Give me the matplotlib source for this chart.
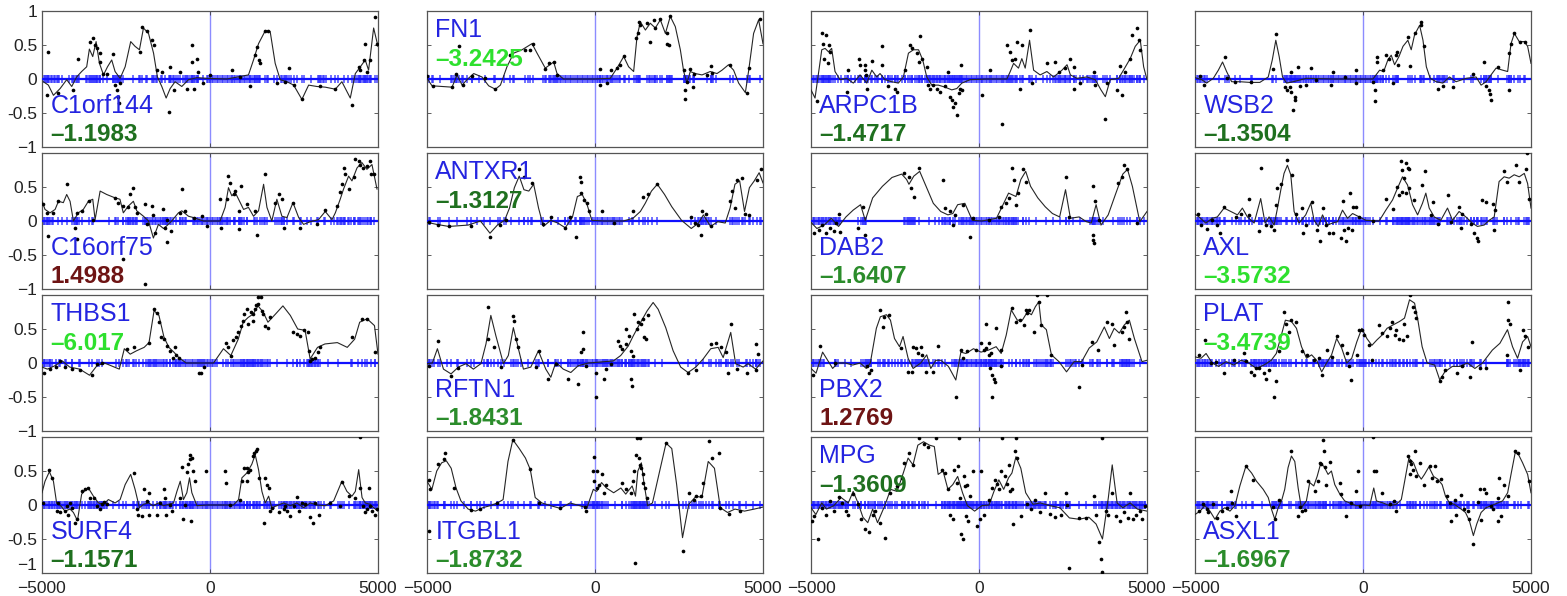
import matplotlib
matplotlib.use("Agg")
import matplotlib.pyplot as plt
import numpy as np

# ---------------- data ----------------
GENES = ["C1orf144", "FN1", "ARPC1B", "WSB2",
         "C16orf75", "ANTXR1", "DAB2", "AXL",
         "THBS1", "RFTN1", "PBX2", "PLAT",
         "SURF4", "ITGBL1", "MPG", "ASXL1"]
SCORES = ["\u20131.1983", "\u20133.2425", "\u20131.4717", "\u20131.3504",
          "1.4988", "\u20131.3127", "\u20131.6407", "\u20133.5732",
          "\u20136.017", "\u20131.8431", "1.2769", "\u20133.4739",
          "\u20131.1571", "\u20131.8732", "\u20131.3609", "\u20131.6967"]

C1ORF144_CURVE = [(-4960,-0.04),(-4810,-0.09),(-4660,-0.24),(-4460,-0.14),(-4265,-0.01),(-4115,-0.11),(-3970,0.03),(-3820,0.11),(-3670,0.18),(-3590,0.44),(-3490,0.33),(-3390,0.55),(-3290,0.23),(-3170,0.06),(-3050,0.18),(-2925,0.28),(-2825,0.11),(-2675,0.01),(-2525,0.18),(-2360,0.55),(-2230,0.48),(-2100,0.43),(-1980,0.75),(-1830,0.67),(-1680,0.38),(-1565,0.03),(-1435,-0.11),(-1305,-0.28),(-1185,-0.14),(-1040,-0.04),(-840,-0.11),(-640,-0.01),(-390,0.02),(-95,0.01),(500,0.0),(1145,0.06),(1295,0.28),(1445,0.52),(1645,0.71),(1790,0.70),(1940,0.23),(2090,-0.01),(2290,-0.04),(2490,-0.09),(2735,-0.30),(2935,-0.09),(3180,-0.11),(3430,-0.12),(3730,-0.15),(3925,-0.04),(4175,-0.28),(4325,0.08),(4475,0.18),(4620,0.28),(4720,0.13),(4870,0.75),(5000,0.48)]
C1ORF144_DOTS = [(-4810,0.40),(-4860,-0.24),(-4510,-0.20),(-4070,-0.16),(-3920,0.29),(-3570,0.55),(-3470,0.60),(-3420,0.50),(-3370,0.45),(-3270,0.25),(-3270,0.38),(-3170,0.08),(-3070,0.08),(-2875,0.37),(-2825,-0.09),(-2775,-0.16),(-2725,-0.26),(-2675,-0.06),(-2695,-0.36),(-2030,0.76),(-1880,0.70),(-2080,0.40),(-1730,0.58),(-1680,0.50),(-1585,0.13),(-1435,0.11),(-1235,-0.48),(-1185,0.18),(-1085,-0.16),(-885,0.11),(-540,0.50),(-540,0.25),(-390,0.30),(-490,-0.14),(-685,-0.14),(-345,0.11),(-195,-0.06),(0,0.06),(650,0.13),(900,0.03),(1195,-0.11),(1345,0.35),(1395,0.47),(1495,0.23),(1445,0.28),(1645,0.71),(1740,0.70),(1990,-0.06),(2240,-0.04),(2365,0.16),(2490,-0.09),(2735,-0.30),(3280,-0.11),(3730,-0.15),(4225,-0.38),(4425,0.18),(4475,0.13),(4575,0.28),(4620,0.51),(4670,0.11),(4770,0.28),(4920,0.91),(4970,0.52)]
C1ORF144_RUG = [-4950,-4900,-4870,-4820,-4780,-4740,-4700,-4650,-4600,-4550,-4500,-4400,-4200,-4100,-4050,-4000,-3950,-3900,-3700,-3650,-3600,-3550,-3500,-3450,-3400,-3350,-3300,-2900,-2850,-2800,-2750,-2700,-2650,-2600,-2300,-2100,-1900,-1700,-1600,-1450,-1350,-1200,-1150,-1100,-1000,-950,-800,-750,-700,-650,-600,-550,-500,-450,-400,-350,-100,-50,0,50,100,150,200,250,300,350,400,450,500,550,600,650,700,750,800,850,900,950,1000,1050,1100,1150,1200,1250,1300,1350,1400,1450,1700,1900,2100,2150,2200,2250,2300,2400,2600,2800,3000,3200,3250,3300,3350,3400,3450,3600,3800,4000,4100,4300,4350,4400,4450,4500,4550,4600,4650,4700,4750,4800]

FN1_CURVE = [(-5000,0.01),(-4850,-0.10),(-4255,-0.12),(-4105,0.06),(-3955,-0.09),(-3810,-0.01),(-3610,0.08),(-3365,0.03),(-3165,-0.10),(-2965,-0.15),(-2815,-0.09),(-2620,0.18),(-2420,0.38),(-2170,0.43),(-1875,0.52),(-1725,0.38),(-1480,0.16),(-1230,0.25),(-1130,0.08),(-935,0.0),(-40,0.0),(455,0.01),(655,0.16),(855,0.33),(1000,0.18),(1150,0.11),(1250,0.62),(1350,0.84),(1500,0.72),(1645,0.82),(1795,0.75),(1945,0.87),(2095,0.67),(2240,0.92),(2390,0.77),(2540,0.43),(2640,0.11),(2735,-0.06),(2835,0.11),(2985,0.08),(3185,0.06),(3430,0.11),(3630,0.08),(3780,0.13),(3975,0.21),(4125,0.13),(4275,-0.06),(4475,-0.20),(4575,0.13),(4720,0.67),(4870,0.87),(5000,0.52)]
FN1_DOTS = [(-5000,0.04),(-4830,-0.10),(-4255,-0.12),(-4125,0.08),(-4055,0.48),(-3930,-0.09),(-3665,0.04),(-3265,0.02),(-2965,-0.15),(-2520,0.35),(-2075,0.43),(-1925,0.43),(-1855,0.52),(-1480,0.15),(-1360,0.23),(-1230,0.25),(-1130,0.06),(160,0.14),(160,-0.09),(355,-0.06),(485,0.13),(655,0.16),(755,0.21),(875,0.34),(1230,0.60),(1270,0.67),(1300,0.84),(1350,0.80),(1545,0.82),(1625,0.55),(1745,0.87),(1795,0.75),(1945,0.88),(2145,0.67),(2145,0.52),(2195,0.50),(2240,0.93),(2640,0.13),(2690,-0.16),(2690,-0.30),(2735,-0.04),(2835,0.14),(2905,-0.12),(2935,0.08),(3335,0.06),(3455,0.19),(3480,0.09),(4025,0.21),(4525,-0.21),(4575,0.16),(4900,0.88)]
FN1_RUG = [-4950,-4850,-4600,-4300,-4200,-4150,-4100,-3950,-3800,-3650,-3450,-3000,-2700,-2450,-2400,-2000,-1550,-1450,-1350,-1300,-1250,-1200,-1150,-1100,-1050,-1000,-950,-900,-850,-800,-750,-700,-650,-600,-550,-500,-450,-400,-350,-300,-250,-200,-150,-100,-50,0,50,100,150,200,250,300,350,400,450,500,550,600,700,900,1000,1150,1250,1300,1600,1700,1800,1850,2000,2200,2250,2300,2650,2700,2750,2800,2950,3450,3500,3600,4100,4600]

ARPC1B_CURVE = [(-5000,-0.16),(-4880,-0.28),(-4750,0.18),(-4680,0.43),(-4580,0.45),(-4480,0.40),(-4385,0.45),(-4285,0.11),(-4135,-0.01),(-3940,0.01),(-3740,-0.06),(-3540,0.06),(-3340,-0.06),(-3190,0.13),(-3045,0.03),(-2945,0.08),(-2795,-0.01),(-2600,-0.04),(-2400,-0.06),(-2250,0.03),(-2100,0.38),(-1950,0.43),(-1800,0.43),(-1675,0.28),(-1555,0.03),(-1405,-0.09),(-1210,-0.09),(-1010,-0.12),(-810,-0.16),(-660,-0.14),(-510,-0.06),(-265,-0.01),(235,0.0),(830,0.0),(930,0.11),(1030,0.23),(1175,0.16),(1275,0.30),(1375,0.16),(1505,0.57),(1625,0.13),(1820,0.06),(2020,0.11),(2220,0.03),(2470,0.13),(2620,0.21),(2720,0.06),(2915,0.01),(3210,0.03),(3460,-0.01),(3630,-0.16),(3760,-0.26),(3905,-0.01),(4155,0.01),(4300,0.13),(4500,0.30),(4650,0.48),(4800,0.57),(4900,0.18),(5000,-0.01)]
ARPC1B_DOTS = [(-4830,-0.33),(-4680,0.68),(-4550,0.65),(-4650,0.52),(-4450,0.50),(-4600,0.30),(-4435,0.40),(-4485,0.23),(-3890,0.13),(-3940,-0.19),(-3560,0.29),(-3540,0.21),(-3390,0.21),(-3390,0.13),(-3360,0.06),(-3190,0.27),(-3320,-0.14),(-2900,0.49),(-2900,0.21),(-2700,-0.11),(-2500,-0.14),(-2450,-0.19),(-2200,0.13),(-2050,0.50),(-2000,0.45),(-1850,0.38),(-1750,0.63),(-1700,0.30),(-1800,0.25),(-1555,0.18),(-1505,-0.09),(-1460,-0.14),(-1360,-0.09),(-1260,-0.14),(-1160,-0.19),(-1010,-0.11),(-910,0.11),(-860,-0.26),(-810,-0.31),(-760,-0.41),(-710,-0.36),(-660,-0.53),(-610,-0.21),(-560,-0.14),(-510,-0.16),(-540,0.21),(85,-0.24),(330,0.13),(680,-0.66),(830,0.50),(930,0.40),(980,0.28),(1080,0.30),(1130,0.55),(1210,-0.14),(1280,0.50),(1505,0.72),(1575,-0.06),(2020,0.24),(2270,0.25),(2370,0.11),(2570,0.16),(2700,0.30),(2815,-0.14),(2815,0.18),(3015,-0.06),(3410,0.11),(3460,-0.09),(3760,-0.59),(3810,-0.06),(4105,-0.16),(4200,0.19),(4250,-0.23),(4350,0.11),(4500,0.30),(4550,0.65),(4700,0.75),(4750,0.57),(4780,0.43)]
ARPC1B_RUG = [-4950,-4900,-4850,-4800,-4750,-4700,-4650,-4600,-4550,-4500,-4450,-4400,-4350,-4300,-4200,-4100,-4000,-3900,-3800,-3700,-3600,-3500,-3400,-3350,-3300,-3200,-3100,-3050,-3000,-2900,-2800,-2700,-2650,-2600,-2500,-2400,-2300,-2200,-2100,-2000,-1900,-1800,-1700,-1600,-1550,-1500,-1450,-1400,-1350,-1300,-1250,-1200,-1150,-1100,-1050,-1000,-950,-900,-850,-800,-750,-700,-650,-600,-550,-500,-450,-400,-350,-300,-250,-200,-150,-100,-50,0,50,100,150,200,250,300,350,400,450,500,550,600,650,700,750,800,850,900,950,1000,1100,1300,1500,1700,1900,2100,2200,2300,2350,2400,2450,2500,2550,2600,2650,2700,2900,3100,3200,3250,3300,3350,3400,3450,3500,3700,3900,4100,4200,4300,4350,4400,4450,4500,4550,4600,4700,4800,4900]

WSB2_CURVE = [(-5000,0.02),(-4800,-0.01),(-4655,-0.06),(-4455,0.01),(-4305,0.13),(-4180,0.25),(-4060,0.11),(-3910,-0.04),(-3665,-0.04),(-3365,-0.05),(-3070,-0.05),(-2820,0.03),(-2700,0.28),(-2595,0.57),(-2495,0.33),(-2395,0.03),(-2275,-0.06),(-2080,-0.04),(-1685,0.01),(-890,0.0),(-100,0.0),(295,0.0),(495,0.13),(615,0.11),(740,0.28),(840,0.35),(940,0.21),(1070,0.33),(1190,0.48),(1335,0.57),(1435,0.43),(1535,0.65),(1685,0.79),(1785,0.57),(1885,0.18),(2000,0.01),(2180,-0.04),(2375,-0.06),(2575,0.03),(2770,-0.04),(3070,0.01),(3365,0.03),(3515,-0.09),(3665,-0.04),(3810,0.06),(3960,0.16),(4155,0.13),(4305,0.11),(4405,0.52),(4505,0.67),(4650,0.55),(4800,0.55),(4900,0.48),(5000,0.23)]
WSB2_DOTS = [(-4850,0.04),(-4735,-0.09),(-4110,0.32),(-4060,0.02),(-3810,-0.04),(-3345,-0.05),(-2690,0.14),(-2595,0.66),(-2330,-0.12),(-2275,-0.16),(-2180,-0.12),(-2130,-0.19),(-2080,-0.46),(-2030,-0.26),(-2030,-0.31),(-2130,0.11),(-1935,0.18),(-1885,-0.11),(-1690,-0.09),(-1540,0.16),(-1390,-0.01),(-890,0.11),(-940,-0.09),(-545,0.03),(-200,0.13),(-200,-0.06),(295,-0.04),(345,-0.16),(345,-0.32),(415,0.32),(415,0.25),(595,0.13),(690,0.35),(770,0.30),(890,-0.06),(1010,0.40),(990,0.35),(1040,0.21),(1335,0.62),(1405,0.19),(1535,0.67),(1735,0.84),(1735,0.79),(1830,0.48),(2225,-0.15),(2375,-0.10),(2670,-0.12),(3265,0.08),(3610,0.25),(3665,-0.11),(3760,-0.16),(3780,-0.22),(3810,-0.31),(4010,0.17),(4350,0.38),(4350,-0.16),(4405,0.52),(4485,0.68),(4680,0.54),(4830,0.54)]
WSB2_RUG = [-4950,-4900,-4850,-4800,-4700,-4650,-4300,-4000,-3650,-3300,-2700,-2350,-2300,-2250,-2200,-2150,-2100,-2050,-2000,-1950,-1900,-1850,-1800,-1750,-1700,-1650,-1600,-1550,-1500,-1450,-1400,-1350,-1300,-1250,-1200,-1150,-1100,-1050,-1000,-950,-900,-850,-800,-750,-700,-650,-600,-550,-500,-450,-400,-350,-300,-250,-200,-150,-100,-50,0,50,100,150,200,250,300,350,400,450,500,550,600,950,1000,1050,1450,1700,1800,2000,2100,2200,2250,2300,2350,2400,2450,2500,2700,3000,3200,3500,3600,3650,3700,3750,3800,4300,4350,4400,4600,4800]

C16ORF75_CURVE = [(-5000,0.29),(-4910,0.17),(-4760,0.12),(-4610,0.17),(-4510,0.29),(-4365,0.27),(-4265,0.39),(-4165,0.29),(-4065,0.0),(-3920,0.12),(-3770,0.17),(-3620,0.29),(-3490,0.32),(-3420,0.02),(-3270,0.44),(-3075,0.39),(-2825,0.34),(-2680,0.32),(-2580,0.12),(-2430,0.22),(-2280,0.29),(-2180,0.15),(-1980,0.07),(-1830,0.0),(-1685,-0.25),(-1535,-0.05),(-1385,-0.11),(-1285,-0.07),(-1140,0.0),(-940,0.12),(-840,0.15),(-640,0.07),(-490,0.05),(-195,0.0),(300,0.0),(450,0.20),(550,0.49),(650,0.37),(750,0.42),(850,0.32),(1000,0.17),(1145,0.20),(1295,0.07),(1445,0.15),(1595,0.54),(1695,0.20),(1840,0.0),(1990,0.32),(2140,0.07),(2290,0.05),(2470,0.27),(2640,0.05),(2785,-0.05),(2985,-0.01),(3230,0.02),(3430,0.14),(3630,0.02),(3730,0.12),(3875,0.32),(3975,0.47),(4125,0.66),(4225,0.59),(4375,0.78),(4520,0.86),(4670,0.76),(4820,0.83),(4970,0.47)]
C16ORF75_DOTS = [(-4960,0.25),(-4860,0.12),(-4810,-0.22),(-4660,0.12),(-4510,0.29),(-4265,0.54),(-4020,-0.11),(-3970,0.12),(-3820,0.15),(-3590,0.29),(-3470,0.02),(-2825,0.34),(-2725,0.27),(-2580,0.22),(-2430,0.20),(-2380,0.39),(-2280,0.49),(-2230,0.20),(-2180,0.12),(-1930,0.25),(-1880,-0.05),(-1730,0.22),(-1685,0.09),(-1635,-0.17),(-1405,0.17),(-1335,-0.10),(-1285,-0.31),(-1285,0.02),(-1165,-0.15),(-895,0.12),(-840,0.47),(-745,0.14),(-490,0.05),(-245,0.07),(-95,-0.07),(300,0.32),(320,-0.11),(500,0.32),(550,0.66),(600,0.56),(700,0.39),(750,0.44),(850,-0.12),(850,0.15),(920,0.51),(1100,0.25),(1345,0.15),(1395,-0.21),(1625,0.69),(1940,0.27),(2060,0.39),(2140,0.32),(2190,-0.11),(2470,0.27),(2685,-0.11),(3180,-0.05),(3430,0.16),(3780,0.22),(3855,0.42),(3925,0.54),(3975,0.78),(4025,0.69),(4125,0.47),(4275,0.64),(4320,0.91),(4420,0.88),(4470,0.83),(4550,0.78),(4670,0.81),(4750,0.88),(4790,0.69),(4870,0.69),(-3970,-0.26),(-2580,-0.56),(-1930,-0.93)]
C16ORF75_RUG = [-4950,-4900,-4850,-4800,-4750,-4700,-4400,-4100,-4050,-4000,-3950,-3900,-3500,-3000,-2800,-2500,-2450,-2400,-2350,-2300,-2200,-2000,-1900,-1850,-1800,-1600,-1550,-1500,-1450,-1400,-1350,-1300,-1250,-1200,-1100,-1000,-900,-800,-700,-500,-450,-400,-350,-300,-250,-200,-150,-100,-50,0,50,100,150,200,250,300,350,400,450,500,700,900,950,1000,1100,1300,1500,1550,1600,1700,2000,2100,2150,2200,2300,2500,2700,2900,3000,3200,3400,3600,3700,3800,3900,4000,4100,4200,4300,4400,4500,4600,4700,4800]

ANTXR1_CURVE = [(-5000,-0.02),(-4710,-0.05),(-4350,-0.08),(-3775,-0.06),(-3410,0.0),(-3125,-0.18),(-2905,-0.06),(-2690,0.01),(-2545,0.19),(-2400,0.49),(-2255,0.66),(-2115,0.46),(-1970,0.44),(-1825,0.54),(-1680,0.19),(-1535,-0.08),(-1320,0.01),(-1105,-0.03),(-885,-0.10),(-670,0.06),(-525,0.36),(-380,0.39),(-235,0.24),(-95,0.01),(265,0.0),(845,0.0),(1130,0.04),(1350,0.14),(1495,0.26),(1680,0.44),(1855,0.54),(2070,0.39),(2285,0.21),(2575,0.01),(2865,-0.11),(3080,-0.03),(3225,0.09),(3440,-0.08),(3655,-0.01),(3875,-0.03),(4020,0.19),(4165,0.54),(4305,0.59),(4450,0.14),(4595,0.49),(4740,0.59),(4885,0.71),(5000,0.56)]
ANTXR1_DOTS = [(-4930,-0.02),(-4670,-0.06),(-4350,-0.08),(-3700,-0.07),(-3125,-0.23),(-2835,-0.06),(-2650,0.01),(-2255,0.76),(-2115,0.64),(-1870,0.56),(-1535,-0.05),(-1320,0.06),(-885,-0.11),(-740,0.06),(-555,-0.23),(-455,0.64),(-425,0.58),(-410,0.41),(-340,0.31),(-235,0.26),(-165,0.14),(195,0.15),(555,-0.03),(1130,0.15),(1420,0.35),(1565,0.39),(1855,0.54),(2865,0.06),(2980,-0.03),(3080,-0.06),(3155,-0.20),(3195,0.14),(3300,0.11),(3440,-0.07),(4020,0.30),(4090,0.44),(4165,0.19),(4235,0.61),(4380,0.63),(4450,0.11),(4570,0.09),(4810,0.61),(4955,0.77)]
ANTXR1_RUG = [-4900,-4600,-4100,-3800,-3500,-3300,-2900,-2700,-2500,-2100,-2000,-1900,-1600,-1300,-1100,-900,-800,-700,-600,-450,-400,-350,-300,-100,-50,0,50,100,150,200,250,300,350,400,450,500,550,600,650,700,750,800,1000,1100,1300,1500,1700,3100,3150,3200,3250,3300,3350,3400,3600,4100,4300,4400,4600,4700,4900]

DAB2_CURVE = [(-5000,-0.02),(-4825,-0.11),(-4610,-0.06),(-4395,0.04),(-4180,-0.08),(-3960,0.06),(-3745,0.16),(-3525,0.24),(-3385,0.01),(-3165,0.34),(-2875,0.51),(-2590,0.64),(-2300,0.69),(-2155,0.61),(-2085,0.54),(-1940,0.66),(-1765,0.73),(-1575,0.51),(-1360,0.26),(-1140,0.14),(-925,0.09),(-780,0.11),(-635,0.24),(-420,0.26),(-200,0.01),(85,0.0),(520,0.04),(735,0.26),(880,0.41),(1100,0.36),(1245,0.61),(1390,0.73),(1535,0.51),(1750,0.34),(1970,0.21),(2185,0.11),(2400,0.06),(2575,0.46),(2720,0.04),(2980,0.06),(3195,-0.01),(3340,-0.03),(3485,0.24),(3630,-0.06),(3845,0.09),(4060,0.39),(4280,0.69),(4420,0.76),(4565,0.51),(4785,-0.01),(5000,0.14)]
DAB2_DOTS = [(-4900,-0.17),(-4755,-0.13),(-4680,-0.06),(-4540,-0.18),(-4420,-0.11),(-4320,-0.15),(-4250,-0.03),(-4180,0.11),(-4135,-0.16),(-3600,-0.11),(-3455,0.21),(-3385,-0.21),(-2225,0.71),(-2085,0.64),(-2010,0.49),(-1940,0.36),(-1795,0.78),(-1070,0.61),(-1000,0.19),(-855,0.14),(-780,-0.06),(-710,0.09),(-490,0.24),(-275,-0.23),(-175,0.04),(300,0.01),(590,0.06),(665,0.21),(810,0.26),(880,0.34),(980,0.78),(1030,0.61),(1100,0.24),(1175,0.41),(1320,0.76),(1390,0.58),(2575,0.64),(2690,0.06),(3385,0.51),(3445,0.29),(3385,-0.21),(3385,-0.28),(3415,-0.33),(3560,0.01),(4135,0.56),(4250,0.64),(4320,0.83),(4395,0.76),(4710,-0.03)]
DAB2_RUG = [-4950,-4900,-4850,-4800,-4750,-4700,-4650,-4600,-4550,-4500,-4450,-4400,-4350,-4300,-4250,-4200,-3500,-3450,-3400,-3350,-2200,-2150,-2100,-2050,-2000,-1950,-1900,-1500,-1300,-1200,-1100,-1000,-950,-900,-850,-600,-550,-500,-450,-400,-350,-300,-250,-200,-150,-100,-50,0,50,100,150,200,250,300,350,400,450,500,550,600,700,750,800,850,900,950,1000,1050,1100,1300,1500,1700,2000,2200,2400,2600,2800,3000,3300,3350,3400,3450,3500,3700,4000,4200,4500,4700,4800,4900]

AXL_CURVE = [(-5000,0.10),(-4880,0.06),(-4680,-0.03),(-4485,0.04),(-4335,0.06),(-4135,0.19),(-3935,0.14),(-3735,0.09),(-3590,0.19),(-3440,0.06),(-3240,-0.03),(-3045,0.33),(-2915,-0.03),(-2795,0.06),(-2645,-0.06),(-2545,0.19),(-2445,0.46),(-2350,0.70),(-2250,0.82),(-2150,0.68),(-2050,0.14),(-1900,-0.03),(-1705,0.09),(-1555,0.26),(-1455,0.01),(-1330,-0.08),(-1205,0.09),(-1055,-0.06),(-905,-0.03),(-755,-0.01),(-610,0.16),(-460,0.04),(-310,0.11),(-110,0.06),(85,0.01),(480,0.0),(680,0.16),(880,0.31),(1025,0.48),(1175,0.65),(1325,0.53),(1475,0.24),(1625,0.09),(1770,0.26),(1870,0.41),(1970,0.19),(2120,0.06),(2315,0.01),(2515,0.19),(2665,0.01),(2860,0.14),(3060,0.06),(3255,-0.03),(3405,-0.08),(3605,-0.06),(3755,0.01),(3905,0.06),(4050,0.58),(4200,0.65),(4350,0.63),(4500,0.68),(4650,0.65),(4800,0.70),(4900,0.55),(5000,0.19)]
AXL_DOTS = [(-4900,0.10),(-4830,-0.06),(-4630,-0.12),(-4485,0.01),(-4335,-0.06),(-4265,-0.17),(-4135,0.20),(-3785,0.06),(-3640,0.10),(-3380,0.33),(-3400,0.09),(-3095,-0.15),(-3045,0.78),(-2895,-0.06),(-2745,-0.08),(-2645,-0.13),(-2595,0.24),(-2545,0.49),(-2445,0.54),(-2270,0.90),(-2100,0.67),(-2000,0.11),(-1820,0.19),(-1800,-0.18),(-1705,-0.06),(-1525,0.28),(-1355,-0.13),(-1275,-0.29),(-1205,0.19),(-1105,-0.06),(-1005,-0.17),(-905,-0.17),(-655,-0.25),(-610,0.29),(-560,-0.13),(-510,-0.30),(-460,-0.11),(-390,0.41),(-330,-0.13),(-285,0.20),(-215,0.20),(-110,0.06),(290,0.0),(680,0.33),(880,0.18),(1000,0.50),(1060,0.38),(1125,0.88),(1175,0.75),(1225,0.63),(1275,0.86),(1325,0.78),(1375,0.77),(1155,0.43),(1275,0.41),(1375,0.48),(1525,0.31),(1770,0.53),(1850,0.74),(2020,0.09),(2070,0.28),(2220,-0.05),(2515,0.38),(2615,-0.01),(2860,0.21),(2960,0.11),(2910,-0.10),(3210,-0.05),(3305,-0.17),(3405,-0.25),(3435,-0.29),(3555,0.31),(3655,0.28),(3855,0.25),(3905,-0.13),(3935,0.16),(4200,0.73),(4300,0.58),(4550,0.82),(4650,0.58),(4850,0.77),(4880,1.0),(4930,0.33)]
AXL_RUG = [-4950,-4900,-4850,-4800,-4750,-4700,-4650,-4600,-4550,-4500,-4450,-4400,-4350,-4300,-4100,-3900,-3700,-3500,-3300,-3100,-3000,-2800,-2750,-2700,-2650,-2600,-2550,-2500,-2300,-2000,-1900,-1800,-1600,-1500,-1400,-1300,-1200,-1100,-1000,-900,-800,-700,-600,-300,-250,-200,-150,-100,-50,0,50,100,150,200,500,700,900,950,1000,1050,1100,1150,1200,1250,1300,1350,1400,1450,1500,1550,1600,1650,1700,1800,1850,1900,1950,2000,2050,2100,2150,2200,2250,2300,2500,2600,2700,2800,2900,3000,3100,3200,3300,3400,3500,3600,3700,4000,4200,4400,4600,4800,4900]

THBS1_CURVE = [(-5000,-0.06),(-4840,-0.09),(-4615,-0.04),(-4395,0.03),(-4175,-0.06),(-3880,-0.09),(-3585,-0.18),(-3365,-0.04),(-3140,0.0),(-2700,-0.09),(-2550,0.21),(-2375,0.13),(-2185,0.18),(-1960,0.23),(-1815,0.30),(-1665,0.77),(-1520,0.70),(-1370,0.38),(-1225,0.23),(-1075,0.16),(-930,0.08),(-710,0.0),(105,0.0),(400,0.21),(620,0.11),(840,0.35),(990,0.60),(1135,0.67),(1285,0.72),(1430,0.84),(1580,0.75),(1725,0.60),(1950,0.72),(2170,0.84),(2390,0.70),(2610,0.50),(2830,0.48),(2980,0.06),(3200,0.23),(3420,0.28),(3790,0.30),(4085,0.23),(4305,0.35),(4455,0.60),(4675,0.65),(4895,0.55),(5000,0.13)]
THBS1_DOTS = [(-4940,-0.14),(-4765,-0.09),(-4590,-0.06),(-4470,0.03),(-4320,-0.06),(-4100,-0.09),(-3880,-0.10),(-3510,-0.18),(-3365,-0.01),(-3215,0.0),(-2480,0.21),(-2260,0.23),(-1815,0.29),(-1665,0.79),(-1565,0.74),(-1520,0.60),(-1445,0.38),(-1370,0.35),(-1270,0.25),(-1180,0.18),(-1105,0.08),(-1030,0.23),(-1000,0.12),(-930,0.07),(-340,-0.14),(-265,-0.14),(-190,-0.06),(475,0.30),(545,0.23),(620,0.11),(695,0.34),(765,0.38),(840,0.45),(915,0.54),(990,0.62),(1015,0.72),(1090,0.79),(1135,0.57),(1210,0.75),(1285,0.72),(1285,0.62),(1325,0.79),(1355,0.85),(1430,0.87),(1430,0.97),(1505,0.97),(1550,0.77),(1580,0.72),(1650,0.55),(1725,0.52),(1800,0.67),(2465,0.45),(2580,0.43),(2685,0.40),(2790,0.48),(2905,0.45),(2935,0.18),(2980,0.03),(3050,0.06),(3125,0.07),(3200,0.16),(3270,0.23),(4230,0.38),(4525,0.65),(4675,0.64),(4925,0.16)]
THBS1_RUG = [-4950,-4900,-4850,-4800,-4750,-4700,-4500,-4300,-4100,-3900,-3600,-3300,-2800,-2700,-2600,-2500,-2400,-2300,-2200,-2100,-2000,-1900,-1850,-1800,-1750,-1700,-1650,-1600,-1400,-1300,-1200,-1000,-950,-900,-850,-800,-750,-700,-650,-600,-550,-500,-450,-400,-350,-300,-250,-200,-150,-100,-50,0,50,100,150,200,400,700,900,950,1000,1050,1100,1150,1200,1250,1300,1500,1700,2000,2300,2600,2900,2950,3000,3050,3100,3150,3200,3500,3800,4200,4400,4600,4800,4900]

RFTN1_CURVE = [(-5000,-0.01),(-4840,0.0),(-4690,0.21),(-4510,-0.09),(-4285,-0.16),(-4065,-0.06),(-3840,-0.01),(-3620,-0.09),(-3395,-0.01),(-3245,0.28),(-3100,0.70),(-2950,0.40),(-2725,-0.01),(-2580,0.11),(-2430,0.52),(-2280,0.21),(-2130,-0.09),(-1910,-0.06),(-1685,0.18),(-1465,-0.09),(-1315,-0.21),(-1165,0.01),(-945,-0.09),(-720,-0.14),(-500,-0.04),(-200,0.0),(545,0.03),(765,0.11),(990,0.25),(1140,0.40),(1360,0.60),(1555,0.77),(1730,0.89),(1880,0.79),(2105,0.52),(2325,0.18),(2550,-0.06),(2770,-0.14),(3000,-0.06),(3220,0.06),(3445,0.21),(3665,0.23),(3815,0.08),(4040,0.45),(4185,-0.01),(4410,-0.06),(4555,-0.01),(4780,-0.09),(5000,0.03)]
RFTN1_DOTS = [(-4955,-0.04),(-4660,0.33),(-4285,-0.19),(-4065,-0.08),(-3170,0.82),(-3170,0.35),(-3020,0.23),(-2800,-0.06),(-2430,0.69),(-2400,0.62),(-2355,0.35),(-2280,0.23),(-1765,-0.06),(-1660,0.17),(-1390,-0.24),(-1165,-0.01),(-795,-0.24),(-500,-0.31),(-420,0.16),(-350,0.45),(-350,0.21),(-275,-0.05),(20,-0.50),(20,-0.14),(275,-0.24),(320,-0.09),(470,-0.01),(690,0.33),(735,0.25),(810,0.21),(915,0.28),(915,0.50),(1020,0.40),(1060,0.18),(1060,-0.24),(1100,-0.34),(1140,0.11),(1170,0.72),(1260,0.50),(1290,0.60),(1360,0.57),(1435,0.65),(1465,0.38),(1510,0.35),(1585,0.70),(2770,-0.14),(2995,-0.11),(3445,0.28),(3590,0.30),(3740,0.23),(3890,0.16),(3960,-0.14),(4040,0.57),(4230,-0.09),(4515,-0.14),(4780,-0.11),(4780,0.28),(4850,0.13)]
RFTN1_RUG = [-4950,-4900,-4850,-4800,-4600,-4400,-4100,-3800,-3700,-3600,-3300,-3200,-3100,-2900,-2700,-2500,-2200,-2000,-1700,-1400,-1200,-1100,-1000,-800,-750,-700,-650,-600,-550,-500,-450,-400,-350,-300,-250,-200,-150,-100,-50,0,50,100,150,200,250,300,350,400,450,500,550,600,650,700,800,900,1000,1100,1200,1300,1400,1500,1600,1800,2000,3200,3400,3700,3900,4100,4300,4500,4600,4700,4800,4900]

PBX2_CURVE = [(-5000,-0.08),(-4850,-0.15),(-4655,0.16),(-4505,0.04),(-4355,-0.08),(-4205,0.0),(-3980,0.0),(-3760,-0.03),(-3535,0.0),(-3355,-0.08),(-3235,0.0),(-3055,0.51),(-2935,0.68),(-2755,0.71),(-2635,0.63),(-2515,0.36),(-2365,0.24),(-2260,0.39),(-2110,0.07),(-1960,-0.08),(-1735,0.0),(-1555,0.12),(-1435,-0.08),(-1285,0.04),(-1135,0.04),(-910,-0.05),(-690,-0.25),(-540,0.16),(-390,0.14),(-165,0.21),(60,0.16),(285,0.19),(510,0.24),(660,0.14),(810,0.41),(960,0.78),(1140,0.63),(1290,0.63),(1440,0.75),(1560,0.71),(1680,0.83),(1780,0.90),(1855,0.56),(2005,0.49),(2155,0.12),(2380,0.02),(2605,-0.13),(2830,0.02),(3055,0.02),(3280,0.22),(3505,0.31),(3730,0.53),(3880,0.36),(4025,0.51),(4175,0.44),(4325,0.56),(4475,0.63),(4625,0.36),(4850,0.02),(5000,0.04)]
PBX2_DOTS = [(-4955,-0.17),(-4730,0.25),(-4280,0.0),(-3325,-0.05),(-3280,-0.14),(-3220,-0.10),(-2935,0.78),(-2815,0.68),(-2860,0.53),(-2665,0.71),(-2335,0.22),(-2110,-0.13),(-2005,-0.13),(-1960,0.24),(-1885,0.22),(-1810,0.14),(-1735,0.24),(-1705,0.12),(-1585,-0.13),(-1360,-0.13),(-1210,0.25),(-690,-0.50),(-540,0.19),(-465,0.07),(-360,0.17),(-90,0.19),(60,0.29),(135,0.19),(210,0.58),(210,0.22),(285,0.12),(330,-0.08),(390,-0.17),(435,-0.23),(480,-0.28),(390,-0.50),(285,0.29),(360,0.14),(510,0.51),(660,0.19),(660,-0.05),(990,0.81),(1110,0.61),(1230,0.63),(1335,0.56),(1410,0.78),(1440,0.73),(1485,0.78),(1635,0.46),(1740,1.0),(1780,0.90),(1855,0.56),(2035,1.0),(2155,0.12),(2980,-0.35),(3055,-0.03),(3355,0.31),(3535,0.19),(3805,0.61),(3955,0.57),(4025,0.26),(4250,0.46),(4325,0.53),(4370,0.75),(4400,0.61),(4475,0.36)]
PBX2_RUG = [-4950,-4900,-4850,-4800,-4750,-4700,-4650,-4600,-4300,-4250,-4200,-4000,-3800,-3500,-3450,-3400,-3350,-3300,-3250,-3200,-3000,-2800,-2700,-2600,-2500,-2400,-2300,-2200,-1900,-1850,-1800,-1750,-1700,-1650,-1600,-1550,-1500,-1300,-1200,-1100,-1000,-800,-750,-700,-650,-600,-550,-500,-450,-400,-350,-300,-250,-200,-150,-100,-50,0,50,100,150,200,250,300,350,400,450,500,550,600,650,700,900,1100,1300,1500,1700,1900,1950,2000,2050,2100,2150,2200,2600,2650,2700,2750,2800,2850,2900,3100,3300,3400,3500,3600,3800,4000,4200,4250,4300,4350,4400,4450,4500,4550,4600,4800]

PLAT_CURVE = [(-5000,0.09),(-4820,0.07),(-4670,0.14),(-4490,0.0),(-4300,-0.05),(-4075,0.02),(-3850,-0.03),(-3625,0.04),(-3400,0.0),(-3175,-0.08),(-2950,-0.03),(-2730,0.04),(-2580,0.14),(-2430,0.41),(-2310,0.63),(-2130,0.61),(-1980,0.51),(-1830,0.24),(-1680,0.07),(-1530,0.12),(-1380,0.04),(-1230,-0.13),(-1085,0.0),(-935,0.12),(-785,0.36),(-635,0.22),(-485,0.0),(-335,0.07),(-185,0.31),(-35,0.51),(115,0.36),(265,0.26),(415,0.34),(565,0.41),(715,0.51),(895,0.56),(1085,0.61),(1235,0.66),(1385,0.93),(1535,0.88),(1640,0.61),(1760,0.24),(1910,0.0),(2135,-0.03),(2285,-0.25),(2435,-0.13),(2660,-0.05),(2880,-0.05),(3105,0.0),(3330,-0.08),(3555,0.0),(3850,0.19),(4075,0.29),(4300,0.49),(4450,0.24),(4600,0.07),(4750,0.31),(4900,0.39),(5000,0.24)]
PLAT_DOTS = [(-4895,0.12),(-4700,0.34),(-4520,0.0),(-4370,0.02),(-4150,-0.14),(-3850,0.04),(-3550,0.14),(-3475,0.03),(-3325,-0.13),(-3250,-0.18),(-3175,-0.08),(-3100,-0.08),(-2950,-0.15),(-2880,-0.23),(-2800,-0.10),(-2655,-0.50),(-2580,-0.26),(-2505,0.17),(-2355,0.75),(-2280,0.58),(-2205,0.46),(-2130,0.63),(-1980,0.61),(-1830,0.17),(-1680,0.12),(-1455,0.04),(-1305,0.07),(-1230,-0.18),(-1085,0.19),(-935,0.09),(-785,0.39),(-635,0.26),(-485,0.14),(-410,-0.04),(-365,-0.25),(-185,0.12),(-110,0.49),(-35,0.49),(40,0.41),(190,0.26),(265,0.04),(490,0.56),(565,0.44),(715,0.39),(790,0.51),(865,0.61),(940,0.41),(985,0.49),(1085,0.36),(1190,0.34),(1235,0.58),(1310,0.39),(1385,1.0),(1490,0.83),(1535,0.75),(1580,0.66),(2285,-0.27),(2360,-0.20),(2435,-0.10),(2810,-0.15),(2960,-0.05),(3180,-0.20),(3255,0.31),(3480,-0.08),(3670,-0.08),(4330,0.90),(4330,0.63),(4375,0.58),(4300,0.12),(4675,-0.10),(4750,0.49),(4825,0.39),(4900,0.24)]
PLAT_RUG = [-4950,-4900,-4850,-4800,-4750,-4700,-4650,-4600,-4550,-4500,-4300,-4200,-4100,-4000,-3900,-3800,-3700,-3600,-3500,-3300,-3250,-3200,-3150,-3100,-3050,-3000,-2950,-2900,-2850,-2800,-2750,-2700,-2650,-2600,-2400,-2000,-1700,-1500,-1300,-1250,-1200,-1150,-1100,-1050,-1000,-950,-900,-700,-500,-300,-100,-50,0,50,100,400,600,900,1100,1300,1600,1800,2000,2050,2100,2150,2200,2250,2300,2600,2700,2800,2900,3000,3100,3200,3300,3500,4300,4500,4550,4600,4650,4700,4750,4800,4850,4900,4950]

SURF4_CURVE = [(-5000,0.18),(-4910,0.35),(-4780,0.49),(-4660,0.35),(-4565,0.03),(-4445,-0.01),(-4315,-0.09),(-4165,-0.06),(-4065,-0.11),(-3945,-0.23),(-3820,0.16),(-3690,0.23),(-3620,0.25),(-3470,0.13),(-3320,0.03),(-3170,0.01),(-3025,0.08),(-2825,0.03),(-2675,0.08),(-2525,0.30),(-2360,0.45),(-2230,0.23),(-2100,-0.04),(-1980,0.01),(-1830,0.03),(-1685,-0.01),(-1535,0.03),(-1385,-0.01),(-1235,0.01),(-1085,0.03),(-985,0.20),(-885,0.35),(-790,0.08),(-690,0.18),(-610,0.40),(-540,0.18),(-390,-0.01),(-95,0.0),(700,0.0),(850,0.08),(950,0.40),(1095,0.47),(1245,0.60),(1345,0.74),(1445,0.52),(1545,0.20),(1645,0.03),(1745,0.13),(1840,-0.04),(1990,-0.01),(2190,0.03),(2390,-0.01),(2585,0.03),(2785,-0.04),(2985,0.03),(3180,0.0),(3430,-0.01),(3680,0.06),(3925,0.35),(4075,0.20),(4225,0.13),(4325,0.20),(4425,0.52),(4525,0.11),(4620,0.03),(4770,0.01),(4870,-0.04),(5000,-0.09)]
SURF4_DOTS = [(-4960,0.03),(-4780,0.52),(-4710,0.40),(-4565,-0.09),(-4515,0.03),(-4465,-0.11),(-4315,-0.09),(-4265,-0.01),(-4215,-0.14),(-4165,0.03),(-4115,-0.05),(-4015,-0.26),(-3945,-0.20),(-3820,0.20),(-3720,0.24),(-3620,0.25),(-3570,0.11),(-3440,0.11),(-3370,-0.01),(-3270,-0.06),(-3220,0.02),(-3150,0.05),(-3070,0.01),(-2260,0.47),(-2160,-0.06),(-2130,-0.14),(-2030,-0.16),(-1960,0.24),(-1880,0.06),(-1830,-0.14),(-1805,0.18),(-1585,-0.14),(-1485,0.03),(-1365,0.24),(-1335,0.11),(-1305,-0.14),(-1185,0.0),(-1135,-0.09),(-885,0.11),(-840,0.56),(-790,-0.21),(-740,0.0),(-690,0.48),(-640,0.60),(-610,0.74),(-590,0.67),(-570,-0.23),(-540,0.69),(-510,0.50),(-440,0.35),(-110,0.50),(455,0.50),(475,0.33),(600,0.0),(880,0.08),(950,0.35),(1000,0.54),(1095,0.55),(1115,0.35),(1145,0.49),(1195,0.52),(1265,0.72),(1295,0.77),(1365,0.80),(1395,0.83),(1445,0.40),(1610,-0.26),(1645,0.40),(1695,0.30),(1745,0.25),(1790,-0.09),(1840,-0.04),(2040,-0.11),(2190,-0.06),(2240,-0.01),(2290,-0.09),(2390,-0.16),(2490,-0.01),(2585,0.12),(2635,-0.09),(2735,0.03),(2835,0.01),(2985,-0.18),(3080,-0.27),(3130,0.03),(3230,-0.14),(3580,0.03),(3880,-0.01),(3925,0.34),(4125,0.13),(4325,0.11),(4455,1.0),(4475,0.25),(4555,-0.01),(4620,-0.11),(4670,-0.06),(4720,0.25),(4770,-0.01),(4820,-0.09),(4920,-0.15),(4970,-0.06)]
SURF4_RUG = [-4950,-4900,-4850,-4800,-4750,-4700,-4650,-4600,-4550,-4500,-4450,-4400,-4350,-4300,-4100,-4050,-4000,-3950,-3900,-3600,-3550,-3500,-3450,-3400,-3350,-3300,-3250,-3200,-3150,-3100,-2900,-2700,-2600,-2500,-2300,-2100,-1900,-1700,-1500,-1450,-1400,-1350,-1300,-1250,-1200,-1100,-1000,-900,-800,-700,-600,-500,-400,-350,-300,-250,-200,-150,-100,-50,0,50,100,150,200,250,300,350,400,450,500,550,600,650,700,750,800,850,900,1000,1100,1200,1300,1400,1500,1700,1900,2100,2150,2200,2250,2300,2350,2400,2450,2500,2550,2600,2650,2700,2750,2800,2850,2900,2950,3000,3100,3200,3300,3400,3600,3800,4000,4300,4350,4400,4450,4500,4550,4600,4650,4700,4750,4800,4850,4900,4950]

ITGBL1_CURVE = [(-5000,0.35),(-4855,0.23),(-4710,0.50),(-4565,0.62),(-4425,0.65),(-4280,0.54),(-4135,0.25),(-3990,0.06),(-3775,-0.06),(-3555,-0.09),(-3340,-0.04),(-3125,-0.01),(-2905,0.03),(-2735,0.08),(-2590,0.64),(-2445,0.96),(-2255,0.83),(-2070,0.69),(-1925,0.52),(-1780,0.11),(-1580,0.03),(-1320,-0.01),(-1030,-0.05),(-745,0.03),(-455,-0.01),(-240,-0.04),(-50,0.23),(50,0.20),(195,0.33),(340,0.25),(555,0.18),(770,0.25),(915,0.16),(1105,0.28),(1205,0.13),(1275,0.50),(1380,0.62),(1450,0.35),(1565,-0.01),(1710,0.03),(1925,0.50),(2115,0.91),(2285,0.83),(2430,0.30),(2605,-0.48),(2790,0.01),(3010,0.13),(3180,0.11),(3370,0.64),(3555,0.54),(3730,-0.04),(3945,-0.11),(4165,-0.06),(4450,-0.09),(4740,-0.06),(5000,-0.03)]
ITGBL1_DOTS = [(-4955,0.37),(-4955,-0.38),(-4900,0.23),(-4670,0.60),(-4495,0.67),(-4450,0.76),(-4205,0.25),(-3700,-0.08),(-3410,-0.06),(-2905,0.03),(-2445,0.96),(-1925,0.53),(-1680,0.03),(-1030,-0.05),(-310,-0.03),(-270,-0.09),(-20,0.71),(-50,0.50),(50,0.50),(-20,0.35),(50,0.25),(120,0.30),(195,0.45),(265,0.18),(340,0.30),(815,0.33),(915,0.23),(1060,0.18),(1135,0.35),(1175,0.50),(1205,-0.86),(1235,0.74),(1250,0.99),(1310,0.69),(1335,0.59),(1350,0.99),(1380,0.54),(1420,0.45),(1420,0.33),(1495,0.25),(1535,0.11),(2115,0.91),(2605,-0.68),(2790,0.18),(2935,0.08),(3010,0.13),(3150,0.13),(3225,0.33),(3400,0.94),(3485,0.69),(3700,0.76),(3730,-0.05),(3990,-0.13),(4305,-0.09)]
ITGBL1_RUG = [-4950,-4900,-4850,-4800,-4750,-4700,-4500,-4300,-4100,-3900,-3700,-3500,-3300,-3100,-2900,-2700,-2600,-2500,-2300,-2100,-1900,-1700,-1500,-1300,-1000,-700,-400,-300,-250,-200,-150,-100,-50,0,50,100,150,200,400,600,800,1000,1100,1150,1200,1250,1300,1350,1400,1450,1500,1550,1600,1800,2000,2200,2500,2700,2900,3100,3300,3500,3700,3900,4100,4300,4500,4700,4900]

MPG_CURVE = [(-5000,-0.04),(-4855,-0.14),(-4680,0.03),(-4540,-0.06),(-4320,-0.01),(-4105,0.11),(-3890,0.03),(-3745,0.20),(-3600,0.03),(-3455,-0.18),(-3310,-0.26),(-3165,-0.06),(-3020,-0.26),(-2805,-0.01),(-2630,0.23),(-2440,0.20),(-2300,0.40),(-2110,0.69),(-1965,0.59),(-1820,0.88),(-1650,0.93),(-1475,0.88),(-1330,0.86),(-1215,0.45),(-1070,0.50),(-925,0.23),(-780,0.30),(-635,0.42),(-490,0.18),(-345,-0.01),(-130,-0.09),(85,-0.01),(300,0.0),(445,0.20),(590,0.37),(735,0.23),(880,0.40),(980,0.47),(1100,0.71),(1245,0.54),(1390,0.18),(1605,0.01),(1825,0.03),(2115,-0.01),(2405,-0.04),(2690,-0.19),(2980,-0.21),(3270,-0.18),(3485,-0.28),(3675,-0.50),(3850,0.11),(3965,0.59),(4110,0.03),(4280,-0.04),(4500,0.03),(4715,-0.06),(5000,-0.09)]
MPG_DOTS = [(-4970,-0.23),(-4900,-0.16),(-4800,-0.50),(-4680,-0.04),(-4540,-0.14),(-4425,0.06),(-4320,-0.09),(-4175,0.12),(-4075,0.03),(-3960,-0.09),(-3890,-0.14),(-3745,0.16),(-3600,0.01),(-3500,-0.21),(-3385,-0.35),(-3270,-0.40),(-3165,-0.14),(-3090,-0.09),(-2950,-0.26),(-2805,-0.48),(-2660,0.18),(-2440,0.28),(-2300,0.40),(-2225,0.62),(-2080,0.76),(-1965,0.59),(-1790,0.99),(-1650,0.89),(-1505,0.86),(-1285,0.99),(-1100,0.52),(-1000,0.47),(-925,0.23),(-855,-0.14),(-780,-0.21),(-735,0.52),(-665,0.33),(-635,0.57),(-605,0.99),(-565,0.11),(-535,-0.43),(-490,-0.50),(-460,0.42),(-420,0.28),(-375,-0.16),(-345,0.30),(-315,-0.23),(-275,0.13),(-175,0.50),(-60,-0.31),(15,-0.21),(55,0.50),(160,-0.14),(300,0.08),(400,0.25),(490,0.37),(545,0.31),(605,0.23),(665,0.50),(690,0.99),(780,0.42),(835,0.31),(880,0.59),(925,0.20),(980,0.23),(1025,-0.28),(1070,0.79),(1100,0.99),(1125,0.69),(1245,-0.16),(1420,0.02),(1535,-0.06),(1680,0.08),(1825,-0.11),(1970,0.18),(2115,-0.13),(2260,-0.18),(2435,-0.14),(2580,0.18),(2620,0.0),(2690,-0.92),(2980,-0.19),(3195,-0.19),(3415,0.13),(3485,-0.14),(3560,-0.55),(3630,-0.80),(3675,-0.98),(3675,0.99),(3775,-0.09),(3850,-0.14),(3965,0.18),(4065,-0.16),(4210,-0.23),(4310,-0.11),(4425,-0.19),(4500,0.18),(4570,-0.21),(4685,-0.14),(4785,-0.09),(4855,-0.21),(4930,-0.01)]
MPG_RUG = [-4950,-4900,-4850,-4800,-4750,-4700,-4650,-4600,-4550,-4500,-4450,-4400,-4350,-4300,-4250,-4200,-4150,-4100,-4050,-4000,-3950,-3900,-3700,-3600,-3500,-3400,-3300,-3200,-3100,-3000,-2900,-2800,-2700,-2600,-2500,-2300,-2200,-2100,-2000,-1900,-1800,-1700,-1600,-1100,-1050,-1000,-950,-900,-850,-800,-750,-700,-650,-600,-550,-500,-450,-400,-350,-300,-250,-200,-150,-100,-50,0,50,100,150,200,250,300,350,400,450,500,550,600,800,900,1000,1100,1200,1300,1400,1500,1550,1600,1650,1700,1750,1800,1850,1900,1950,2000,2200,2300,2400,2500,2600,2700,3700,3750,3800,3850,3900,3950,4000,4050,4100,4150,4200,4250,4300,4350,4400,4450,4500,4550,4600,4650,4700,4750,4800,4850,4900,4950]

ASXL1_CURVE = [(-5000,-0.14),(-4850,-0.09),(-4705,-0.01),(-4555,-0.09),(-4405,-0.21),(-4260,-0.09),(-4110,-0.04),(-3960,-0.09),(-3810,-0.01),(-3665,0.28),(-3485,0.57),(-3315,0.47),(-3170,0.35),(-2970,0.23),(-2820,0.11),(-2725,-0.06),(-2625,-0.21),(-2525,-0.04),(-2425,0.06),(-2330,0.23),(-2230,0.55),(-2130,0.72),(-2030,0.64),(-1930,0.25),(-1835,-0.04),(-1685,0.06),(-1585,0.33),(-1465,0.28),(-1365,0.42),(-1265,0.60),(-1165,0.57),(-1040,0.45),(-940,0.50),(-840,0.30),(-690,0.16),(-545,0.06),(-395,0.03),(-200,-0.01),(50,0.0),(200,-0.01),(320,0.25),(400,0.06),(595,0.03),(790,-0.01),(990,0.01),(1140,0.08),(1240,0.35),(1365,0.69),(1505,0.62),(1635,0.45),(1735,0.38),(1830,0.45),(1960,0.56),(2100,0.42),(2225,0.38),(2355,0.30),(2455,0.13),(2575,0.03),(2720,0.01),(2920,-0.06),(3050,-0.11),(3165,-0.23),(3285,-0.45),(3385,-0.28),(3515,-0.11),(3660,-0.04),(3810,-0.01),(4010,0.03),(4155,0.06),(4305,0.18),(4405,0.45),(4530,0.77),(4630,0.74),(4750,0.62),(4900,0.45),(5000,0.18)]
ASXL1_DOTS = [(-4870,-0.09),(-4750,0.02),(-4650,-0.06),(-4605,-0.11),(-4455,0.02),(-4355,-0.19),(-4210,-0.09),(-4060,-0.04),(-3940,0.20),(-3910,0.03),(-3780,-0.16),(-3485,0.57),(-3265,0.37),(-2675,-0.03),(-2625,-0.21),(-2495,0.07),(-2130,0.79),(-1930,-0.16),(-1880,-0.03),(-1805,-0.09),(-1735,-0.08),(-1635,0.36),(-1440,0.20),(-1340,0.36),(-1290,0.62),(-1240,0.60),(-1190,0.96),(-1170,0.79),(-1120,0.56),(-1090,0.30),(-990,0.63),(-690,0.33),(-640,0.16),(-495,-0.16),(-345,0.03),(-200,0.20),(-150,0.50),(-100,-0.01),(300,1.0),(320,0.50),(380,0.50),(580,0.18),(790,0.01),(910,0.06),(970,-0.09),(1335,0.72),(1385,0.65),(1405,0.46),(1435,0.60),(1485,0.52),(1535,0.80),(1585,0.43),(1685,0.62),(1830,0.30),(1985,0.57),(2065,0.40),(2135,0.57),(2205,0.36),(2330,0.38),(2500,0.13),(2575,0.03),(2625,-0.23),(2750,0.07),(2770,-0.14),(2920,0.15),(3000,-0.06),(3120,-0.09),(3165,-0.20),(3285,-0.57),(3415,0.05),(3485,0.23),(3515,-0.22),(3615,0.23),(3660,0.17),(3810,-0.01),(3860,-0.06),(4010,0.11),(4010,-0.24),(4055,0.40),(4105,-0.16),(4205,0.30),(4305,0.13),(4530,0.80),(4600,0.77),(4930,0.35)]
ASXL1_RUG = [-4950,-4900,-4850,-4800,-4750,-4700,-4650,-4600,-4550,-4500,-4450,-4400,-4200,-4000,-3800,-3600,-3300,-3000,-2700,-2650,-2600,-2550,-2500,-2450,-2400,-2200,-2000,-1900,-1850,-1800,-1750,-1700,-1650,-1600,-1550,-1500,-1400,-1300,-1200,-1100,-900,-850,-800,-750,-700,-650,-600,-550,-500,-450,-400,-350,-300,-250,-200,-150,-100,-50,0,50,100,150,200,250,300,350,400,450,500,550,600,650,700,750,800,850,900,1000,1100,1300,1500,1700,1900,2100,2300,2500,2550,2600,2650,2700,2750,2800,2850,2900,3100,3300,3500,3550,3600,3650,3700,3750,3800,3850,3900,3950,4000,4050,4100,4150,4200,4250,4300,4500,4700,4900]

X_TICKS = [-5000, 0, 5000]
Y_TICKS = [-1, -0.5, 0, 0.5, 1]

# ---------------- styling ----------------
CURVES = [C1ORF144_CURVE, FN1_CURVE, ARPC1B_CURVE, WSB2_CURVE,
          C16ORF75_CURVE, ANTXR1_CURVE, DAB2_CURVE, AXL_CURVE,
          THBS1_CURVE, RFTN1_CURVE, PBX2_CURVE, PLAT_CURVE,
          SURF4_CURVE, ITGBL1_CURVE, MPG_CURVE, ASXL1_CURVE]
DOTS = [C1ORF144_DOTS, FN1_DOTS, ARPC1B_DOTS, WSB2_DOTS,
        C16ORF75_DOTS, ANTXR1_DOTS, DAB2_DOTS, AXL_DOTS,
        THBS1_DOTS, RFTN1_DOTS, PBX2_DOTS, PLAT_DOTS,
        SURF4_DOTS, ITGBL1_DOTS, MPG_DOTS, ASXL1_DOTS]
RUGS = [C1ORF144_RUG, FN1_RUG, ARPC1B_RUG, WSB2_RUG,
        C16ORF75_RUG, ANTXR1_RUG, DAB2_RUG, AXL_RUG,
        THBS1_RUG, RFTN1_RUG, PBX2_RUG, PLAT_RUG,
        SURF4_RUG, ITGBL1_RUG, MPG_RUG, ASXL1_RUG]
LABEL_UP = [False, True, False, False,
            False, True, False, False,
            True, False, False, True,
            False, False, True, False]
DARK_G, MID_G, BRIGHT_G, DARK_R = "#1f701f", "#2b8c2b", "#2ee02e", "#6e1414"
SCORE_COLORS = [DARK_G, BRIGHT_G, DARK_G, DARK_G,
                DARK_R, DARK_G, MID_G, BRIGHT_G,
                BRIGHT_G, MID_G, DARK_R, BRIGHT_G,
                DARK_G, MID_G, DARK_G, MID_G]

plt.rcParams["font.family"] = ["Liberation Sans", "DejaVu Sans"]

W, H = 1567, 596
fig = plt.figure(figsize=(W / 100, H / 100), dpi=100)
lefts = [42, 427, 811, 1195]
tops = [11, 153, 295, 437]
aw, ah = 336, 136

for i, gene in enumerate(GENES):
    r, c = divmod(i, 4)
    ax = fig.add_axes([lefts[c] / W, 1 - (tops[r] + ah) / H, aw / W, ah / H])
    ax.set_xlim(-5000, 5000)
    ax.set_ylim(-1, 1)
    ax.axvline(0, color="#8c8cff", lw=1.0, zorder=1)
    rug = list(RUGS[i]) + [p[0] for p in DOTS[i]]
    ax.vlines(rug, -0.055, 0.055, color="#2a2aff", lw=1.1, alpha=0.85, zorder=2)
    ax.axhline(0, color="#1010ff", lw=1.6, zorder=3)
    cx, cy = zip(*CURVES[i])
    ax.plot(cx, cy, color="#262626", lw=0.8, zorder=4)
    dx, dy = zip(*DOTS[i])
    ax.scatter(dx, dy, s=7, color="black", linewidths=0, zorder=5)
    if LABEL_UP[i]:
        yn, ys = 0.72, 0.28
    else:
        yn, ys = -0.39, -0.82
    ax.text(-4750, yn, gene, color="#2424e0", fontsize=18, va="center", ha="left", zorder=6)
    ax.text(-4750, ys, SCORES[i], color=SCORE_COLORS[i], fontsize=17.5,
            fontweight="bold", va="center", ha="left", zorder=6)
    ax.set_xticks(X_TICKS)
    ax.set_yticks(Y_TICKS)
    ax.tick_params(direction="in", length=3, width=0.6, colors="#444444",
                   labelcolor="#222222", labelsize=12.5, top=True, right=True)
    ax.tick_params(axis="x", pad=6)
    if c == 0:
        labels = ["\u22121" if r == 3 else "\u22121", "-0.5", "0", "0.5", "1" if r == 0 else ""]
        ax.set_yticklabels(labels)
        ax.get_yticklabels()[0].set_verticalalignment("bottom" if r == 3 else "center_baseline")
    else:
        ax.set_yticklabels([])
    if r == 3:
        ax.set_xticklabels(["\u22125000", "0", "5000"])
    else:
        ax.set_xticklabels([])
    for s in ax.spines.values():
        s.set_color("#555555")
        s.set_linewidth(0.9)

fig.savefig("out.png", dpi=100)
